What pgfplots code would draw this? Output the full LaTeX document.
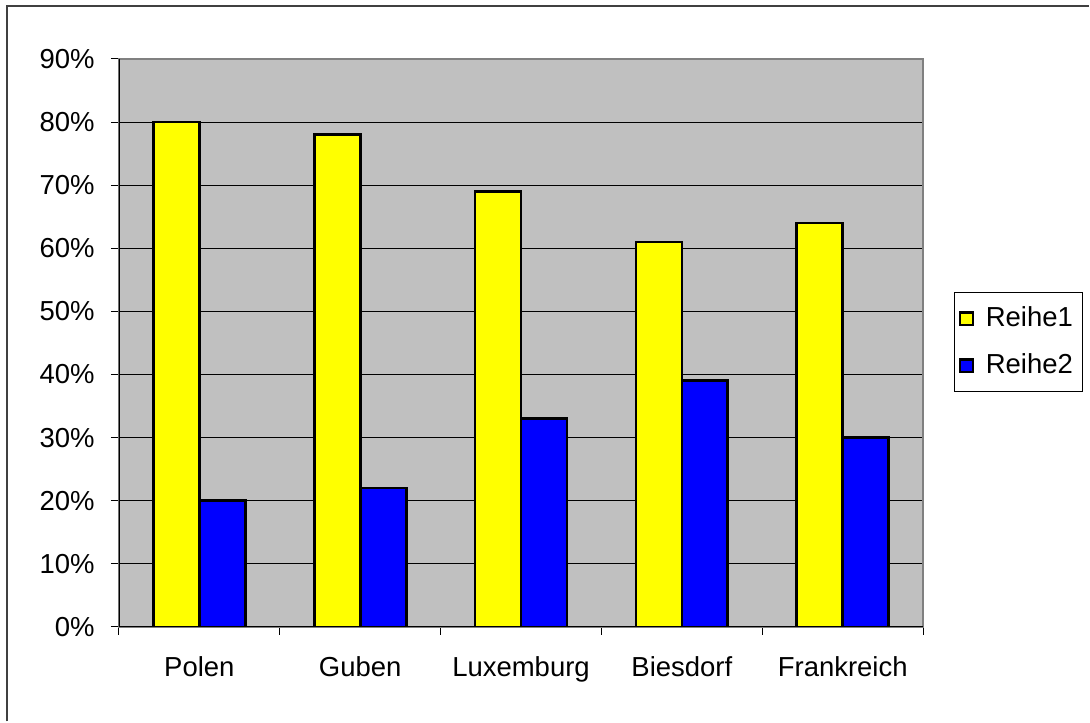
\documentclass[border=0pt]{standalone}
\usepackage{fontspec}
\setmainfont{Liberation Sans}
\usepackage{pgfplots}
\pgfplotsset{compat=1.18}

\definecolor{plotgray}{HTML}{C0C0C0}
\definecolor{framegray}{HTML}{808080}
\definecolor{outergray}{HTML}{404040}
\definecolor{reiheyellow}{HTML}{FFFF00}
\definecolor{reiheblue}{HTML}{0000FF}

\begin{document}
\begin{tikzpicture}[font=\fontsize{11}{13}\selectfont]
% page size of the screenshot
\path (0,0) rectangle (436pt,288.8pt);
% outer chart frame (right and bottom edge cut off, as in the screenshot)
\draw[outergray, line width=0.8pt] (2.7pt,0pt) -- (2.7pt,286.4pt) -- (436pt,286.4pt);

\begin{axis}[
    at={(47.6pt,37.8pt)}, anchor=south west,
    scale only axis,
    width=322pt, height=227.4pt,
    xmin=-0.5, xmax=4.5,
    ymin=0, ymax=90,
    ybar=0pt, bar width=18.4pt,
    axis background/.style={fill=plotgray},
    axis line style={draw=framegray, line width=0.9pt},
    ymajorgrids=true,
    major grid style={black, line width=0.45pt},
    xtick={0,1,2,3,4},
    xticklabels={Polen,Guben,Luxemburg,Biesdorf,Frankreich},
    minor xtick={-0.5,0.5,1.5,2.5,3.5,4.5},
    ytick={0,10,20,30,40,50,60,70,80,90},
    yticklabels={0\%,10\%,20\%,30\%,40\%,50\%,60\%,70\%,80\%,90\%},
    tick align=outside,
    major tick length=3.2pt, minor tick length=3.2pt,
    tick style={black, line width=0.4pt},
    major x tick style={draw=none},
    xtick pos=bottom, ytick pos=left,
    tick label style={font=\fontsize{11}{13}\selectfont},
    xticklabel style={yshift=-5pt},
    yticklabel style={xshift=-3pt},
    legend image code/.code={
        \draw[#1, draw=black, line width=0.9pt] (0pt,-2.5pt) rectangle (5pt,2.5pt);},
    legend style={at={(axis description cs:1.1186,0.5013)}, anchor=center,
        draw=black, line width=0.4pt, fill=white,
        font=\fontsize{11}{13}\selectfont,
        inner xsep=2pt, inner ysep=3.6pt, row sep=5.3pt, column sep=2.8pt,
        cells={anchor=west}},
]
\addplot[fill=reiheyellow, draw=black, line width=1.1pt] coordinates {
    (0,80) (1,78) (2,69) (3,61) (4,64)
};
\addlegendentry{Reihe1}
\addplot[fill=reiheblue, draw=black, line width=1.1pt] coordinates {
    (0,20) (1,22) (2,33) (3,39) (4,30)
};
\addlegendentry{Reihe2}
% axis lines in black on the left and bottom
\draw[black, line width=0.6pt] (rel axis cs:0,1) -- (rel axis cs:0,0) -- (rel axis cs:1,0);
\end{axis}
\end{tikzpicture}
\end{document}
